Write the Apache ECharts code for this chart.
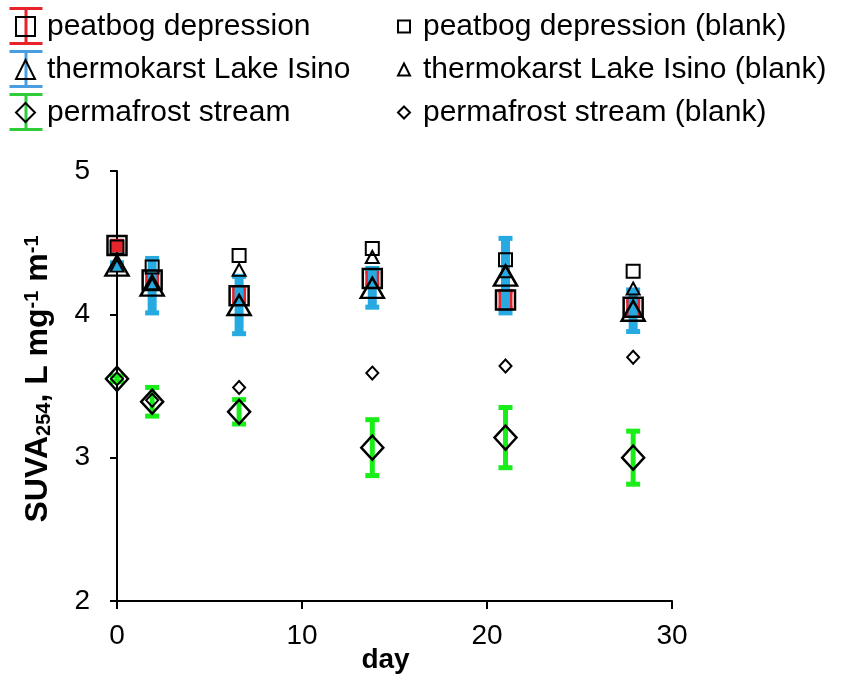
<!DOCTYPE html>
<html>
<head>
<meta charset="utf-8">
<title>SUVA254</title>
<script src="https://cdn.jsdelivr.net/npm/echarts@6/dist/echarts.min.js"></script>
</head>
<body style="margin:0;background:#fff">
<div id="main" style="width:843px;height:678px;"></div>
<script>
// sampling days
var days = [0, 1.9, 6.6, 13.8, 21, 27.9];

// sample means and error half-widths
var peatMean   = [4.48, 4.24, 4.13, 4.25, 4.10, 4.05];
var peatErr    = [0.03, 0.05, 0.05, 0.05, 0.06, 0.05];
var lakeMean   = [4.34, 4.20, 4.065, 4.185, 4.27, 4.025];
var lakeErr    = [0.02, 0.19, 0.20, 0.135, 0.26, 0.145];
var streamMean = [3.55, 3.39, 3.32, 3.07, 3.14, 3.00];
var streamErr  = [0.02, 0.10, 0.085, 0.195, 0.21, 0.185];

// blanks
var peatBlank   = [4.47, 4.33, 4.41, 4.46, 4.38, 4.30];
var lakeBlank   = [4.34, 4.21, 4.31, 4.40, 4.30, 4.18];
var streamBlank = [3.55, 3.40, 3.49, 3.59, 3.64, 3.70];

var xTicks = [0, 10, 20, 30];
var yTicks = [2, 3, 4, 5];

var names = ['peatbog depression', 'thermokarst Lake Isino', 'permafrost stream'];
var blankNames = names.map(function (n) { return n + ' (blank)'; });

var FONT = 'Liberation Sans, Arial, sans-serif';

function pairs(ys) {
    return days.map(function (d, i) { return [d, ys[i]]; });
}

function errorSeries(name, mean, err, color, barW) {
    return {
        name: name,
        type: 'custom',
        silent: true,
        z: 2,
        data: days.map(function (d, i) { return [d, mean[i] - err[i], mean[i] + err[i]]; }),
        encode: { x: 0, y: [1, 2] },
        renderItem: function (params, api) {
            var p1 = api.coord([api.value(0), api.value(1)]);
            var p2 = api.coord([api.value(0), api.value(2)]);
            var x = p1[0], lo = p1[1], hi = p2[1];
            var capW = 14, capH = 5;
            return {
                type: 'group',
                children: [
                    { type: 'rect', shape: { x: x - barW / 2, y: hi, width: barW, height: lo - hi }, style: { fill: color } },
                    { type: 'rect', shape: { x: x - capW / 2, y: hi - capH / 2, width: capW, height: capH }, style: { fill: color } },
                    { type: 'rect', shape: { x: x - capW / 2, y: lo - capH / 2, width: capW, height: capH }, style: { fill: color } }
                ]
            };
        }
    };
}

function markSeries(name, ys, symbol, size, bw, z) {
    return {
        name: name,
        type: 'scatter',
        data: pairs(ys),
        symbol: symbol,
        symbolSize: size,
        z: z,
        itemStyle: { color: 'rgba(255,255,255,0)', borderColor: '#000', borderWidth: bw, opacity: 1 }
    };
}

// error-bar glyphs drawn behind the left legend icons
function legendBar(cy, color) {
    var cx = 26, h = 17.5, w = 33, t = 3;
    return {
        type: 'group', z: 1,
        children: [
            { type: 'rect', shape: { x: cx - t / 2, y: cy - h, width: t, height: 2 * h }, style: { fill: color } },
            { type: 'rect', shape: { x: cx - w / 2, y: cy - h - t / 2, width: w, height: t }, style: { fill: color } },
            { type: 'rect', shape: { x: cx - w / 2, y: cy + h - t / 2, width: w, height: t }, style: { fill: color } }
        ]
    };
}

var chart = echarts.init(document.getElementById('main'));

chart.setOption({
    animation: false,
    backgroundColor: '#fff',
    graphic: [
        legendBar(26, '#e8232a'),
        legendBar(69, '#4a9ee0'),
        legendBar(112, '#2fcd3a')
    ],
    legend: [{
        data: names,
        orient: 'vertical',
        left: 10,
        top: 0,
        itemWidth: 19,
        itemHeight: 19,
        itemGap: 0,
        selectedMode: false,
        textStyle: { fontFamily: FONT, fontSize: 30, color: '#000', lineHeight: 43, padding: [0, 0, 0, 7] }
    }, {
        data: blankNames,
        orient: 'vertical',
        left: 392,
        top: 0,
        itemWidth: 12,
        itemHeight: 12,
        itemGap: 0,
        selectedMode: false,
        textStyle: { fontFamily: FONT, fontSize: 30, color: '#000', lineHeight: 43, padding: [0, 0, 0, 8] }
    }],
    grid: { left: 117, right: 171, top: 171, bottom: 77, containLabel: false, outerBoundsMode: 'none' },
    xAxis: {
        type: 'value',
        min: xTicks[0],
        max: xTicks[xTicks.length - 1],
        interval: xTicks[1] - xTicks[0],
        name: 'day',
        nameLocation: 'middle',
        nameGap: 45,
        nameMoveOverlap: false,
        nameTextStyle: { fontFamily: FONT, fontSize: 28, fontWeight: 'bold', color: '#000', padding: [0, 18, 0, 0] },
        axisLine: { onZero: false, lineStyle: { color: '#000', width: 2 } },
        axisTick: { length: 8, lineStyle: { color: '#000', width: 2 } },
        axisLabel: { margin: 21, fontFamily: FONT, fontSize: 28, color: '#000' },
        splitLine: { show: false }
    },
    yAxis: {
        type: 'value',
        min: yTicks[0],
        max: yTicks[yTicks.length - 1],
        interval: yTicks[1] - yTicks[0],
        name: '{b|SUVA}{s|254}{b|, L mg}{p|-1}{b| m}{p|-1}',
        nameLocation: 'middle',
        nameRotate: 90,
        nameGap: 63,
        nameMoveOverlap: false,
        nameTextStyle: {
            fontFamily: FONT, fontWeight: 'bold', color: '#000', padding: [0, 0, 0, 14],
            rich: {
                b: { fontFamily: FONT, fontSize: 32, fontWeight: 'bold', color: '#000' },
                s: { fontFamily: FONT, fontSize: 20, fontWeight: 'bold', color: '#000', verticalAlign: 'bottom', lineHeight: 12 },
                p: { fontFamily: FONT, fontSize: 20, fontWeight: 'bold', color: '#000', verticalAlign: 'top', lineHeight: 12 }
            }
        },
        axisLine: { show: true, lineStyle: { color: '#000', width: 2 } },
        axisTick: { show: true, length: 7, lineStyle: { color: '#000', width: 2 } },
        axisLabel: { margin: 27, fontFamily: FONT, fontSize: 28, color: '#000' },
        splitLine: { show: false }
    },
    series: [
        errorSeries('peat err', peatMean, peatErr, '#e3262e', 14),
        errorSeries('lake err', lakeMean, lakeErr, '#27a9e1', 9),
        errorSeries('stream err', streamMean, streamErr, '#19ee19', 5),
        markSeries(names[0], peatMean, 'rect', [19, 19], 2.5, 5),
        markSeries(names[1], lakeMean, 'triangle', [23, 20], 2.5, 5),
        markSeries(names[2], streamMean, 'diamond', [22, 24], 2.5, 5),
        markSeries(blankNames[0], peatBlank, 'rect', [13, 13], 2, 6),
        markSeries(blankNames[1], lakeBlank, 'triangle', [13, 12], 2, 6),
        markSeries(blankNames[2], streamBlank, 'diamond', [12, 13], 2, 6)
    ]
});
</script>
</body>
</html>
